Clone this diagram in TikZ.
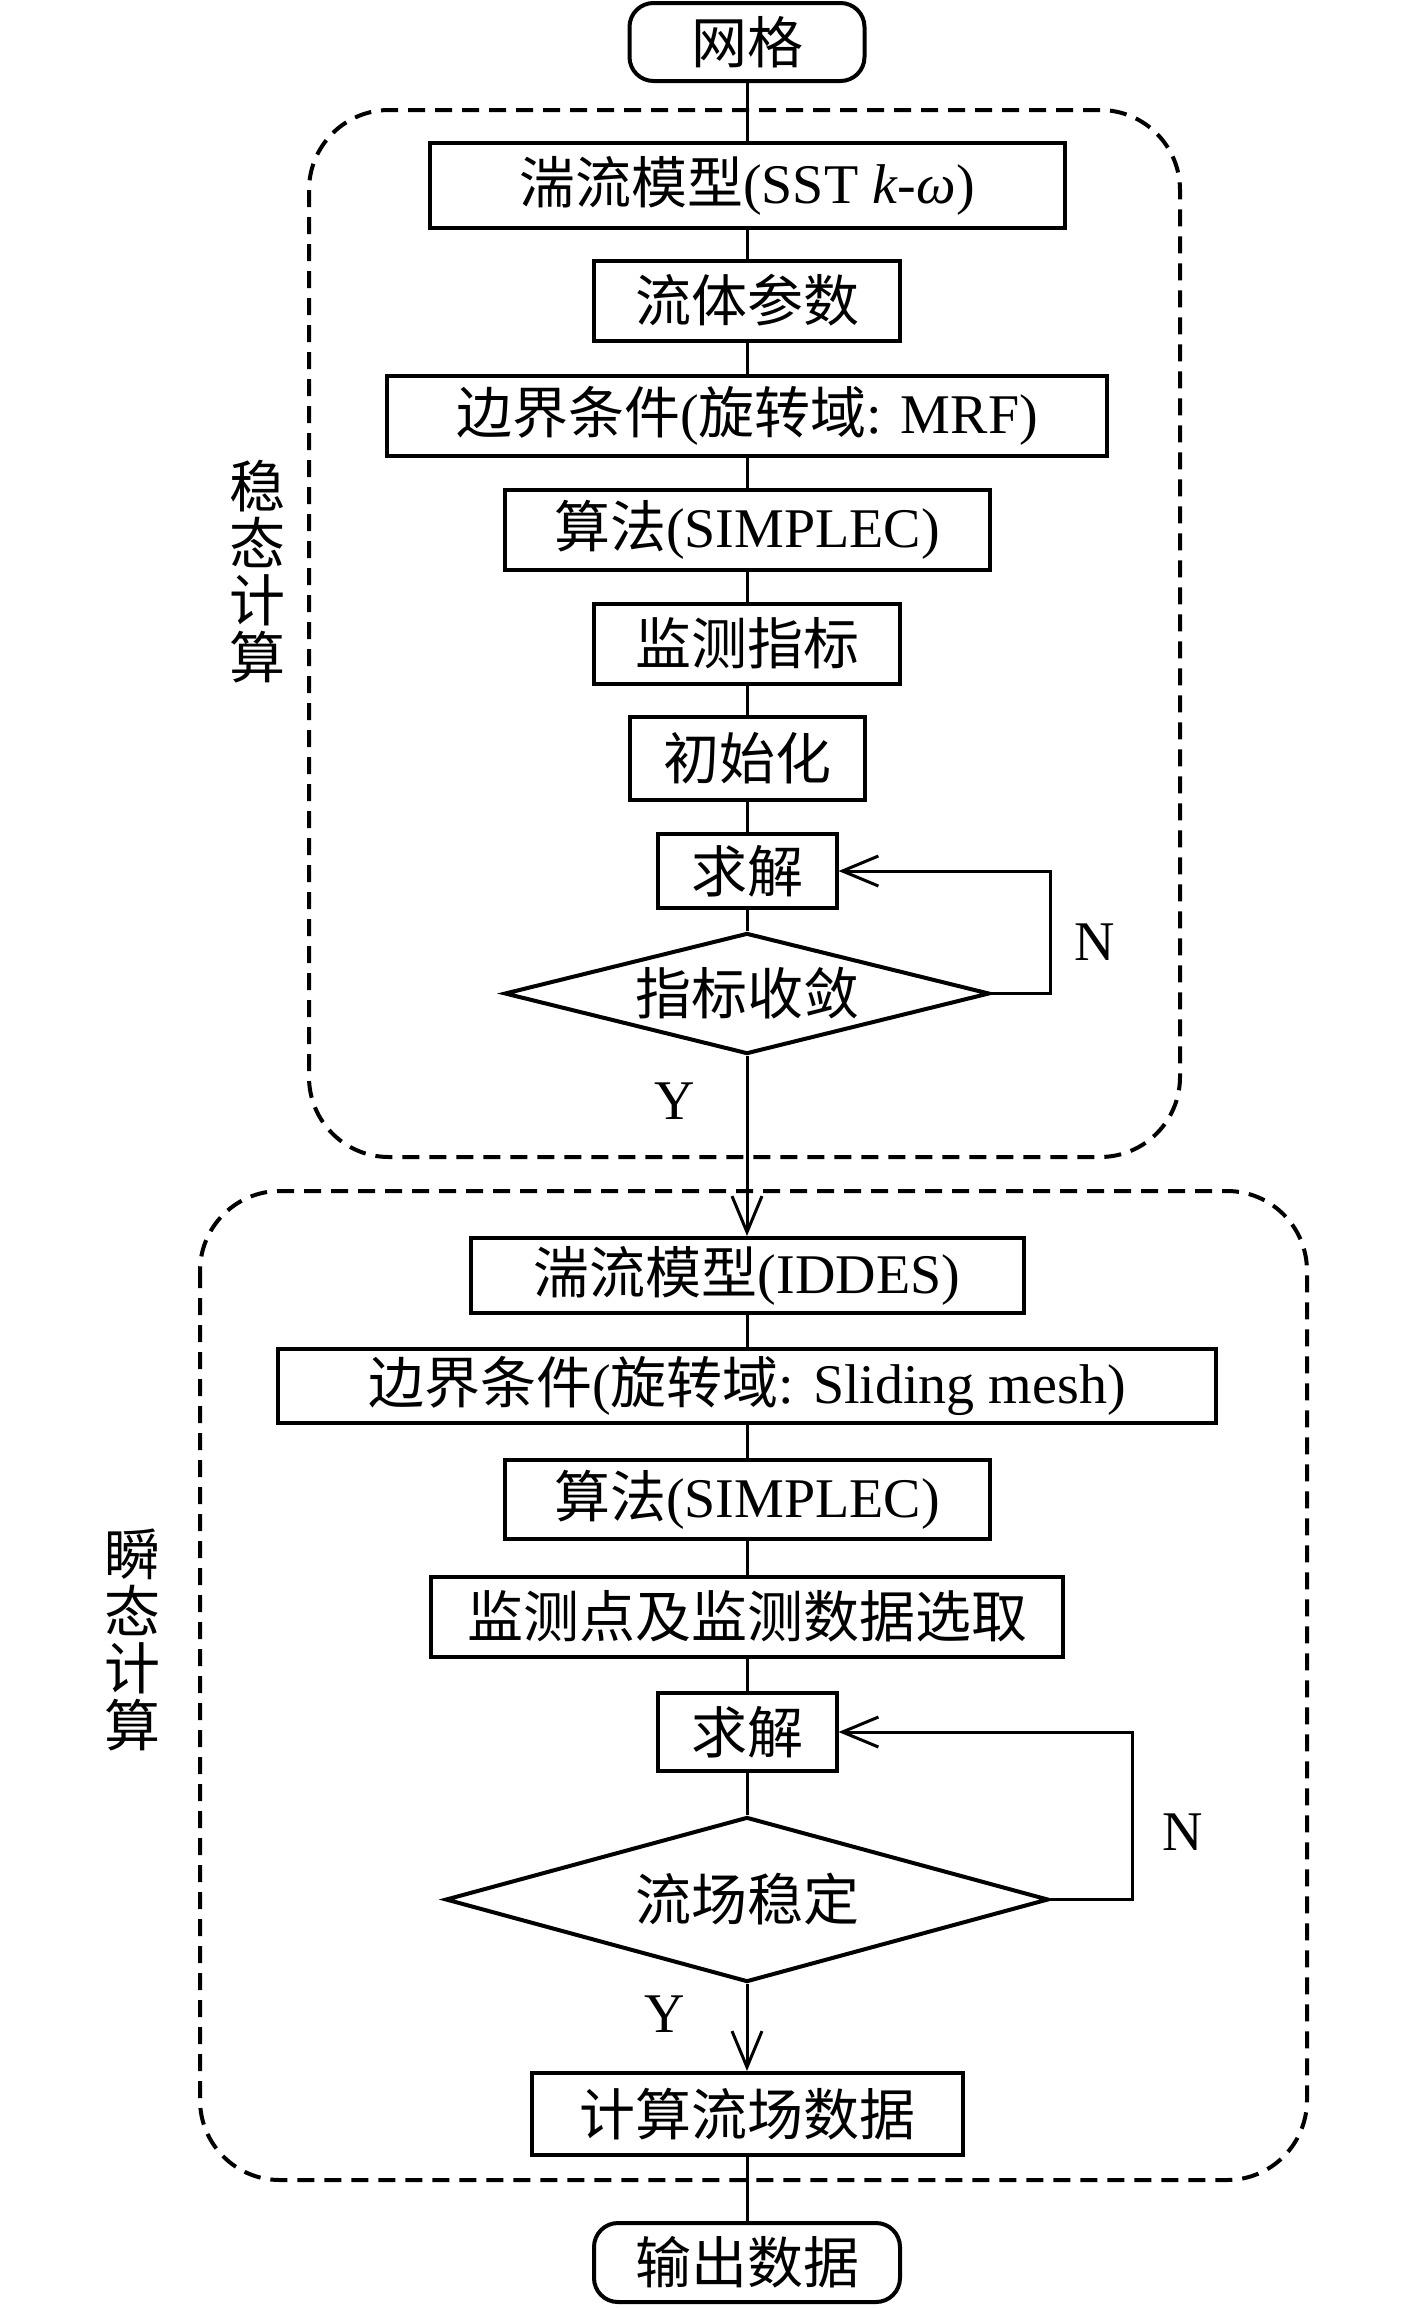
\documentclass[tikz,border=0pt]{standalone}
\usepackage{fontspec}
\setmainfont{Liberation Serif}
\newfontfamily\cjk{Noto Sans CJK SC}
\usetikzlibrary{positioning,shapes.geometric,arrows.meta}
\newcommand{\zh}[1]{{\cjk #1}}

\begin{document}
\begin{tikzpicture}[x=1pt,y=1pt,on grid,line width=1.5pt,
    font=\fontsize{28}{28}\selectfont,
    block/.style={rectangle, draw, line width=2pt, minimum height=40pt, inner sep=0pt},
    term/.style={block, rounded corners=12pt},
    test/.style={diamond, draw, line width=2pt, aspect=4, inner sep=0pt},
    group/.style={draw, line width=2pt, dash pattern=on 8.5pt off 5pt, rounded corners=40pt},
    side/.style={align=center, font=\fontsize{28}{28.5}\selectfont\cjk},
    arr/.style={-{Straight Barb[length=18pt,width=15pt,line width=1.5pt]}}]

    \useasboundingbox (0,0) rectangle (708.5,-1154);

    % dashed frames
    \draw[group] (154.5,-55) rectangle (590,-578.5);
    \draw[group] (100,-595.5) rectangle (653.5,-1090);
    \node[side] (steadylbl) at (128.5,-286) {稳\\态\\计\\算};
    \node[side] (transientlbl) at (66,-820) {瞬\\态\\计\\算};

    % steady part
    \node[term, minimum width=117.5pt, minimum height=39pt] (grid) at (373.5,-21) {\zh{网格}};
    \node[block, minimum width=317.5pt, minimum height=42.5pt] (sst) [below=71.75pt of grid] {\zh{湍流模型}(SST \textit{k}-\textit{ω})};
    \node[block, minimum width=153pt] (fluid) [below=57.5pt of sst] {\zh{流体参数}};
    \node[block, minimum width=360pt] (bc) [below=57.5pt of fluid] {\zh{边界条件}(\zh{旋转域}: MRF)};
    \node[block, minimum width=242.5pt] (algo) [below=57.25pt of bc] {\zh{算法}(SIMPLEC)};
    \node[block, minimum width=153pt] (mon) [below=56.75pt of algo] {\zh{监测指标}};
    \node[block, minimum width=117.5pt, minimum height=41.5pt] (init) [below=57.5pt of mon] {\zh{初始化}};
    \node[block, minimum width=89.5pt, minimum height=37pt] (solve) [below=56.25pt of init] {\zh{求解}};
    \node[test, minimum width=242.5pt, minimum height=60.5pt] (conv) [below=61.25pt of solve] {\zh{指标收敛}};

    % transient part
    \node[block, minimum width=276.5pt, minimum height=37.5pt] (iddes) [below=141pt of conv] {\zh{湍流模型}(IDDES)};
    \node[block, minimum width=469pt, minimum height=37pt] (bcs) [below=55.25pt of iddes] {\zh{边界条件}(\zh{旋转域}: Sliding mesh)};
    \node[block, minimum width=242.5pt, minimum height=39.5pt] (algob) [below=56.75pt of bcs] {\zh{算法}(SIMPLEC)};
    \node[block, minimum width=316pt] (probe) [below=58.5pt of algob] {\zh{监测点及监测数据选取}};
    \node[block, minimum width=89.5pt, minimum height=39pt] (solveb) [below=57.75pt of probe] {\zh{求解}};
    \node[test, aspect=3.65, minimum width=301.5pt, minimum height=82.5pt] (steady) [below=83.75pt of solveb] {\zh{流场稳定}};
    \node[block, minimum width=215.5pt, minimum height=41pt] (calc) [below=107.25pt of steady] {\zh{计算流场数据}};
    \node[term, minimum width=153pt, minimum height=39.5pt] (out) [below=74.25pt of calc] {\zh{输出数据}};

    \coordinate (loopa) at (525,0);
    \coordinate (loopb) at (566,0);

    \path (grid) edge (sst)
    (sst) edge (fluid)
    (fluid) edge (bc)
    (bc) edge (algo)
    (algo) edge (mon)
    (mon) edge (init)
    (init) edge (solve)
    (solve) edge (conv)
    (conv) edge[arr] node[pos=0.25, anchor=east, xshift=-22pt] {Y} (iddes)
    (iddes) edge (bcs)
    (bcs) edge (algob)
    (algob) edge (probe)
    (probe) edge (solveb)
    (solveb) edge (steady)
    (steady) edge[arr] node[pos=0.35, anchor=east, xshift=-27pt] {Y} (calc)
    (calc) edge (out);

    \draw[arr] (conv.east) -- (conv.east -| loopa) |- node[pos=0.21, anchor=west, xshift=8pt] {N} (solve.east);
    \draw[arr] (steady.east) -- (steady.east -| loopb) |- node[pos=0.2, anchor=west, xshift=11pt] {N} (solveb.east);
\end{tikzpicture}
\end{document}
